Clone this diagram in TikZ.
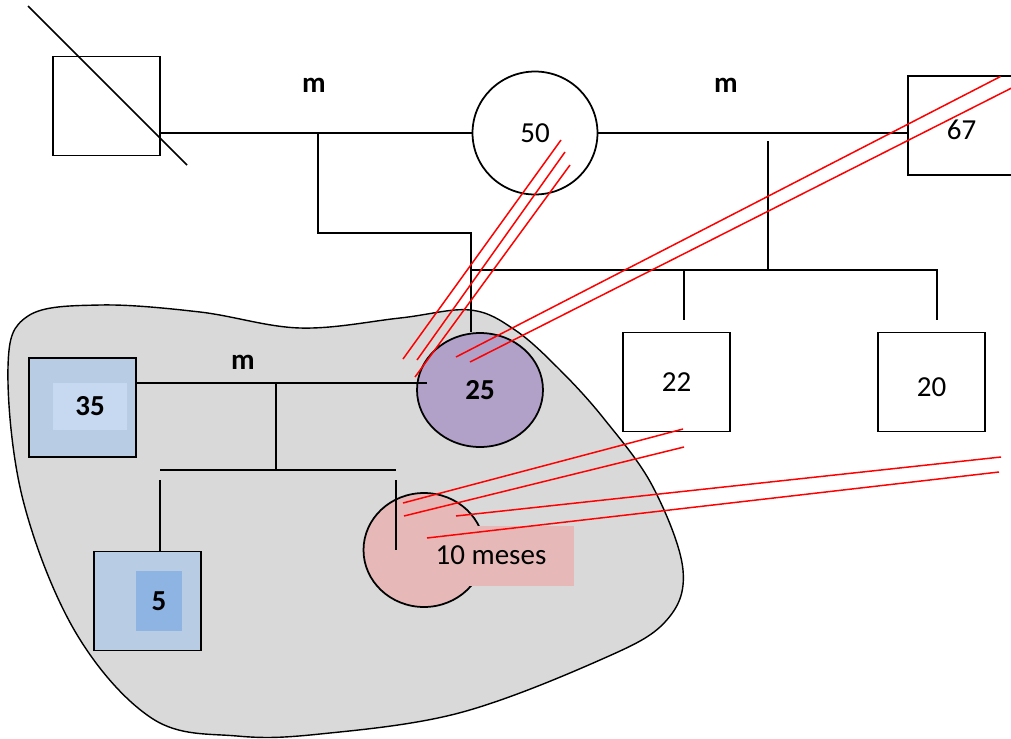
\documentclass[tikz,border=0pt]{standalone}
\usepackage{fontspec}
\setmainfont{Carlito}
\usetikzlibrary{shapes.geometric}

\definecolor{blobgray}{HTML}{D9D9D9}
\definecolor{momviolet}{HTML}{B1A0C7}
\definecolor{boyblue}{HTML}{B8CCE4}
\definecolor{paleblue}{HTML}{C6D9F1}
\definecolor{midblue}{HTML}{8EB4E3}
\definecolor{babypink}{HTML}{E6B9B8}

\tikzset{
  male/.style={rectangle,draw,line width=1pt,inner sep=0pt,minimum width=2.14cm,minimum height=1.98cm},
  lowtext/.style={text height=0.56cm,text depth=0pt},
  female/.style={ellipse,draw,line width=1pt,inner sep=0pt},
  tie/.style={line width=1pt},
  hostile/.style={red,line width=0.85pt},
}

\begin{document}
\begin{tikzpicture}[x=0.02cm,y=-0.02cm,font=\fontsize{16.5}{19}\selectfont]
      \useasboundingbox (0,0) rectangle (1011,738);

      % household
      \draw[fill=blobgray,line width=0.8pt] plot[smooth cycle,tension=.6] coordinates {
        (100,305) (200,312) (300,328) (400,318) (470,310) (515,330) (560,370)
        (605,420) (653,487) (683,570) (665,622) (600,660) (459,713) (320,734)
        (237,736) (153,719) (76,633) (23,500) (8,367) (28,316)};

      \begin{scope}[every node/.style={male}]
        \node (d)  at (106.5,106) {};
        \node[lowtext] (67) at (961.5,125.5) {67};
        \node (22) at (676.5,382) {22};
        \node[lowtext] (20) at (931.5,382) {20};
        \node[fill=boyblue] (35) at (82.5,407.5) {};
        \node[fill=boyblue] (5)  at (147.5,601) {};
      \end{scope}

      \begin{scope}[every node/.style={female}]
        \node[minimum width=2.5cm,minimum height=2.46cm] (50) at (535,133) {50};
        \node[fill=momviolet,minimum width=2.52cm,minimum height=2.28cm] (25) at (480,390) {\bfseries 25};
        \node[fill=babypink,minimum width=2.42cm,minimum height=2.28cm] (10) at (424,550) {};
      \end{scope}

      \node[fill=paleblue,minimum width=1.48cm,minimum height=0.94cm] (35i) at (90,406.5) {\bfseries 35};
      \node[fill=midblue,minimum width=0.92cm,minimum height=1.2cm] (5i) at (159,601) {\bfseries 5};
      \node[fill=babypink,minimum width=2.94cm,minimum height=1.2cm] (10b) at (500.5,556) {};
      \node (10t) at (491,555) {10 meses};

      \begin{scope}[every node/.style={font=\fontsize{16.5}{19}\selectfont\bfseries}]
        \node (ma) at (314,85) {m};
        \node (mb) at (726,85) {m};
        \node (mc) at (243,362) {m};
      \end{scope}

      \coordinate (j1) at (318,133);
      \coordinate (j2) at (471,233);
      \coordinate (j3) at (768,141);
      \coordinate (j4) at (276,383);
      \coordinate (k1) at (471,270);
      \coordinate (k2) at (937,270);
      \coordinate (k3) at (684,270);
      \coordinate (k4) at (160,470);
      \coordinate (k5) at (396,470);

      \begin{scope}[every path/.style={tie}]
        \draw (28,6) -- (187,165);
        \draw (d.east |- 50.west) -- (50.west);
        \draw (50.east) -- (50.east -| 67.west);
        \draw (j1) |- (j2) -- (j2 |- 25.north);
        \draw (j3) -- (j3 |- k1);
        \draw (k1) -- (k2) -- +(0,50);
        \draw (k3) -- +(0,50);
        \draw (35.east |- j4) -- ([xshift=0.22cm]25.west |- j4);
        \draw (j4) -- (j4 |- k4);
        \draw (k4) -- (k5);
        \draw ([yshift=-0.2cm]k4) -- (k4 |- 5.north);
        \draw ([yshift=-0.2cm]k5) -- +(0,70);
      \end{scope}

      \begin{scope}[every path/.style={hostile}]
        \draw ([shift={(26,7)}]50.center) -- ([shift={(-77,-31)}]25.center);
        \draw ([shift={(30,19)}]50.center) -- ([shift={(-63,-30)}]25.center);
        \draw ([shift={(35,32)}]50.center) -- ([shift={(-65,-13)}]25.center);
        \draw ([shift={(39,-49)}]67.center) -- ([shift={(-24,-33)}]25.center);
        \draw ([shift={(59,-42)}]67.center) -- ([shift={(-10,-28)}]25.center);
        \draw ([shift={(6.5,47)}]22.center) -- ([shift={(-21,-47)}]10.center);
        \draw ([shift={(7.5,65)}]22.center) -- ([shift={(-20,-34)}]10.center);
        \draw ([shift={(69.5,75)}]20.center) -- ([shift={(32,-34)}]10.center);
        \draw ([shift={(67.5,90)}]20.center) -- ([shift={(3,-12)}]10.center);
      \end{scope}

    \end{tikzpicture}
\end{document}
